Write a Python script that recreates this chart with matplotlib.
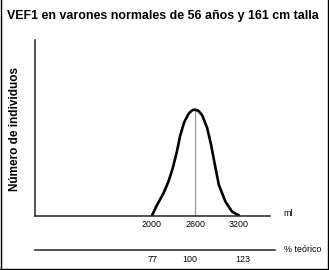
import matplotlib
matplotlib.use("Agg")
import matplotlib.pyplot as plt
from matplotlib.lines import Line2D

plt.rcParams['font.family'] = ['Liberation Sans', 'DejaVu Sans']

# Data
volume_ml = [2000, 2066, 2158, 2227, 2287, 2342, 2387, 2443, 2503, 2545, 2572, 2600,
             2640, 2691, 2760, 2815, 2862, 2922, 3014, 3105, 3200]
count_rel = [0, 9.5, 21, 32, 45, 60, 75, 88, 96, 99, 100, 100,
             99, 95, 83, 67, 50, 29, 13, 3.6, 0]
ml_ticks = [2000, 2600, 3200]
pct_ticks = [77, 100, 123]
mean_ml = 2600
mean_count = 100

title = "VEF1 en varones normales de 56 años y 161 cm talla"
ylabel = "Número de individuos"

W, H = 329, 270
fig = plt.figure(figsize=(W / 100, H / 100), dpi=100)

def fx(px):
    return px / W

def fy(py):
    return 1 - py / H

# main axes
ax = fig.add_axes([fx(35), fy(215.5), fx(270) - fx(35), fy(40) - fy(215.5)])
ax.plot(volume_ml, count_rel, color='black', lw=1.9, solid_joinstyle='round',
        solid_capstyle='round')
ax.plot([mean_ml, mean_ml], [0, mean_count], color='#999999', lw=0.9, zorder=1)
ax.set_xlim(386, 3628)
ax.set_ylim(0, 166)
for s in ['top', 'right']:
    ax.spines[s].set_visible(False)
for s in ['left', 'bottom']:
    ax.spines[s].set_color('#222222')
    ax.spines[s].set_linewidth(1.1)
ax.set_yticks([])
ax.set_xticks(ml_ticks)
ax.set_xticklabels([str(t) for t in ml_ticks])
ax.tick_params(axis='x', length=0, pad=3.5, labelsize=6.4)

# percent axis
ax2 = fig.add_axes([fx(35), fy(249.5), fx(275) - fx(35), 0.001])
ax2.set_xlim(17.85, 139.18)
for s in ['top', 'right', 'left']:
    ax2.spines[s].set_visible(False)
ax2.spines['bottom'].set_color('#222222')
ax2.spines['bottom'].set_linewidth(1.1)
ax2.set_yticks([])
ax2.set_xticks(pct_ticks)
ax2.set_xticklabels([str(t) for t in pct_ticks])
ax2.tick_params(axis='x', length=0, pad=4, labelsize=6.4)
ax2.get_xticklabels()[1].set_ha('right')

# texts in pixel coordinates
fig.text(fx(283), fy(213), "ml", fontsize=6.4, va='center', ha='left')
fig.text(fx(284), fy(249), "% teórico", fontsize=6.4, va='center', ha='left')
fig.text(fx(162.5), fy(16.5), title, fontsize=8.9, fontweight='bold',
         ha='center', va='center')
fig.text(fx(15), fy(129), ylabel, fontsize=8.5, fontweight='bold',
         rotation=90, ha='center', va='center')

# frame
for xs, ys in [([0.5, 0.5], [0, 269]), ([328, 328], [0, 269]), ([0, 328], [268.8, 268.8])]:
    fig.add_artist(Line2D([fx(x) for x in xs], [fy(y) for y in ys], color='black', lw=1.0))

fig.savefig("out.png", dpi=100)
